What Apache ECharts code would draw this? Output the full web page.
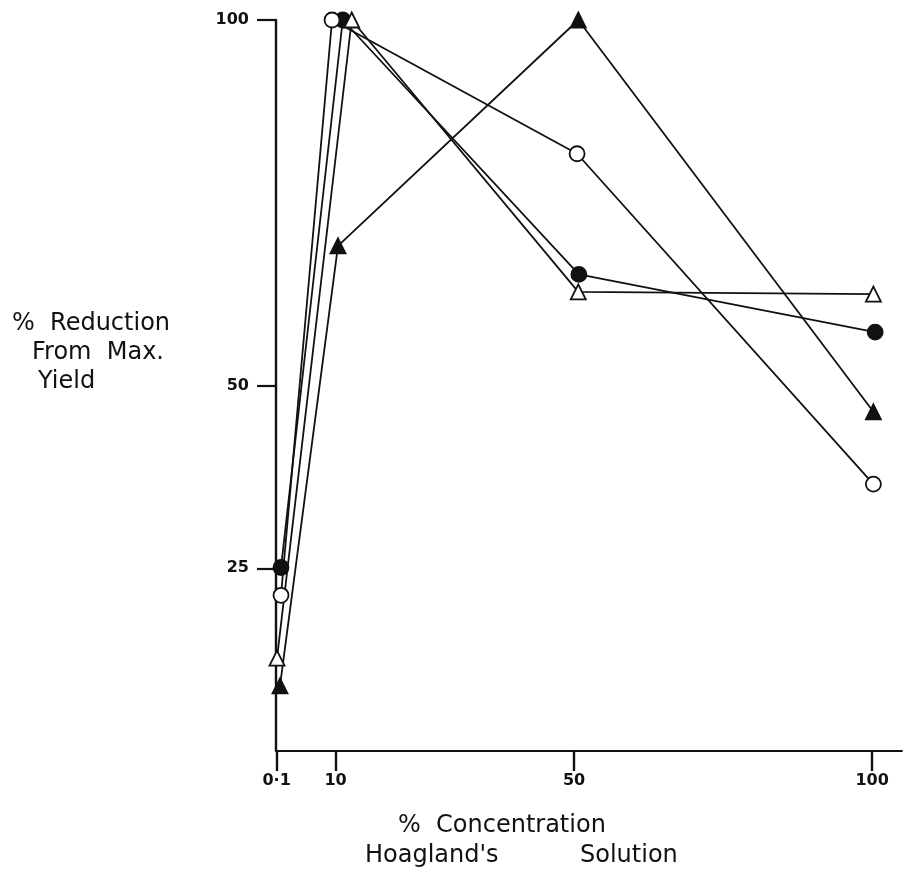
<!DOCTYPE html>
<html>
<head>
<meta charset="utf-8">
<script src="https://cdn.jsdelivr.net/npm/echarts@6/dist/echarts.min.js"></script>
<style>
  html, body { margin: 0; padding: 0; background: #fff; }
  #chart { width: 906px; height: 875px; }
</style>
</head>
<body>
<div id="chart"></div>
<script>
// % reduction from maximum yield against % concentration of Hoagland's solution.
// Each series keeps its own plotted concentration positions (the hand-drawn
// markers sit slightly apart where they coincide).
const xTicks = [0.1, 10, 50, 100];
const xTickLabels = ['0·1', '10', '50', '100'];
const yTicks = [25, 50, 100];

const openCircleX = [0.84, 9.4, 50.5, 100.2];
const openCircleY = [21.3, 100, 81.7, 36.5];

const filledCircleX = [0.84, 11.2, 50.8, 100.5];
const filledCircleY = [25.1, 100, 65.2, 57.3];

const openTriangleX = [0.17, 12.7, 50.7, 100.2];
const openTriangleY = [12.7, 100, 62.8, 62.5];

const filledTriangleX = [0.67, 10.4, 50.7, 100.2];
const filledTriangleY = [8.9, 69.1, 100, 46.4];

const FONT = 'DejaVu Sans';
const NAME_FONT = '24px "' + FONT + '"';

function pairs(xs, ys) {
  return xs.map((x, i) => [x, ys[i]]);
}

function lineSeries(name, xs, ys, symbol, filled, size) {
  return {
    name: name,
    type: 'line',
    data: pairs(xs, ys),
    symbol: symbol,
    symbolSize: size,
    showAllSymbol: true,
    lineStyle: { color: '#111', width: 1.8 },
    itemStyle: {
      color: filled ? '#111' : '#fff',
      borderColor: '#111',
      borderWidth: 1.8
    },
    z: filled ? 3 : 4,
    animation: false
  };
}

const chart = echarts.init(document.getElementById('chart'), null, { renderer: 'canvas' });

chart.setOption({
  backgroundColor: '#fff',
  animation: false,
  grid: { left: 276, top: 20, width: 626, height: 731 },
  xAxis: {
    type: 'value',
    min: 0,
    max: 105,
    splitLine: { show: false },
    axisLine: { show: true, lineStyle: { color: '#111', width: 1.8 } },
    axisTick: {
      show: true,
      customValues: xTicks,
      length: 20,
      lineStyle: { color: '#111', width: 2.4 }
    },
    axisLabel: {
      customValues: xTicks,
      margin: 22,
      color: '#111',
      fontFamily: FONT,
      fontSize: 16,
      fontWeight: 'bold',
      formatter: function (v) {
        const i = xTicks.indexOf(v);
        return i >= 0 ? xTickLabels[i] : '';
      }
    }
  },
  yAxis: {
    type: 'value',
    min: 0,
    max: 100,
    splitLine: { show: false },
    axisLine: { show: true, lineStyle: { color: '#111', width: 2.4 } },
    axisTick: {
      show: true,
      customValues: yTicks,
      length: 19,
      lineStyle: { color: '#111', width: 2.2 }
    },
    axisLabel: {
      customValues: yTicks,
      margin: 27,
      color: '#111',
      fontFamily: FONT,
      fontSize: 16,
      fontWeight: 'bold'
    }
  },
  graphic: [
    { type: 'text', left: 12, top: 312, style: { text: '%  Reduction', font: NAME_FONT, fill: '#111' } },
    { type: 'text', left: 32, top: 341, style: { text: 'From  Max.', font: NAME_FONT, fill: '#111' } },
    { type: 'text', left: 38, top: 370, style: { text: 'Yield', font: NAME_FONT, fill: '#111' } },
    { type: 'text', left: 398, top: 814, style: { text: '%  Concentration', font: NAME_FONT, fill: '#111' } },
    { type: 'text', left: 365, top: 844, style: { text: "Hoagland's", font: NAME_FONT, fill: '#111' } },
    { type: 'text', left: 580, top: 844, style: { text: 'Solution', font: NAME_FONT, fill: '#111' } }
  ],
  series: [
    lineSeries('open circle', openCircleX, openCircleY, 'circle', false, 15),
    lineSeries('filled circle', filledCircleX, filledCircleY, 'circle', true, 15),
    lineSeries('open triangle', openTriangleX, openTriangleY, 'triangle', false, 15),
    lineSeries('filled triangle', filledTriangleX, filledTriangleY, 'triangle', true, 15)
  ]
});
</script>
</body>
</html>
